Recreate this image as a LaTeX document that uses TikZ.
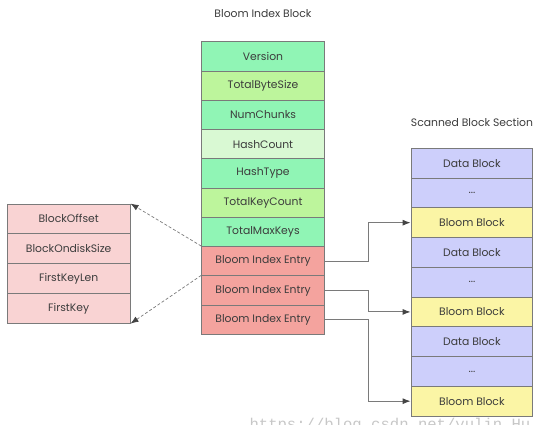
\documentclass[tikz,border=0pt]{standalone}
\usepackage{fontspec}
\setmainfont{Poppins}
\newfontfamily\wmfont{Liberation Mono}
\usetikzlibrary{arrows.meta}
\definecolor{mint}{HTML}{90F5B5}
\definecolor{ygreen}{HTML}{BDF59C}
\definecolor{palegreen}{HTML}{D9F9D3}
\definecolor{salmon}{HTML}{F4A39E}
\definecolor{pinkbox}{HTML}{F9D3D3}
\definecolor{lavender}{HTML}{CDCFFB}
\definecolor{yellowbox}{HTML}{FBF5A5}
\definecolor{edge}{HTML}{7A7A7A}
\definecolor{tip}{HTML}{444444}
\definecolor{txt}{HTML}{3C3C3C}
\newcommand\mydots{...}
\tikzset{
  cell/.style={draw=edge, line width=0.9pt, minimum height=#1, inner sep=0pt,
    font=\fontsize{10.8}{12}\selectfont, text=txt},
  mcell/.style={cell=29.26pt, minimum width=122.5pt},
  lcell/.style={cell=29.8pt, minimum width=122.7pt},
  rcell/.style={cell=29.75pt, minimum width=121.7pt},
  title/.style={font=\fontsize{10.8}{12}\selectfont, text=txt},
  link/.style={draw=edge, line width=0.9pt, -{Latex[length=8pt,width=6pt,color=tip]}},
  dlink/.style={draw=edge, line width=0.7pt, dash pattern=on 3pt off 2pt, -{Latex[length=8pt,width=6pt,color=tip]}},
}
\begin{document}
\begin{tikzpicture}[x=1pt,y=-1pt]
\useasboundingbox (0,0) rectangle (541,424);
\node[text=black!22, font=\wmfont\fontsize{15.6}{16}\selectfont, anchor=base west] (wm) at (246,429) {https://blog.csdn.net/yulin\_Hu};
\node[title] (t1) at (263,14) {Bloom Index Block};
\node[title] (t2) at (472,122) {Scanned Block Section};
% middle column
\foreach \i/\c/\t in {0/mint/Version,1/ygreen/TotalByteSize,2/mint/NumChunks,3/palegreen/HashCount,4/mint/HashType,5/ygreen/TotalKeyCount,6/mint/TotalMaxKeys,7/salmon/Bloom Index Entry,8/salmon/Bloom Index Entry,9/salmon/Bloom Index Entry}{
  \pgfmathtruncatemacro\n{\i+1}
  \node[mcell, fill=\c] (m\n) at (263,{41.7+29.26*(\i+0.5)}) {\t};
}
% left column
\foreach \i/\t in {0/BlockOffset,1/BlockOndiskSize,2/FirstKeyLen,3/FirstKey}{
  \pgfmathtruncatemacro\n{\i+1}
  \node[lcell, fill=pinkbox] (l\n) at (68.7,{204+29.8*(\i+0.5)}) {\t};
}
% right column
\foreach \i/\c/\t in {0/lavender/Data Block,1/lavender/\mydots,2/yellowbox/Bloom Block,3/lavender/Data Block,4/lavender/\mydots,5/yellowbox/Bloom Block,6/lavender/Data Block,7/lavender/\mydots,8/yellowbox/Bloom Block}{
  \pgfmathtruncatemacro\n{\i+1}
  \node[rcell, fill=\c] (r\n) at (471.9,{148.3+29.75*(\i+0.5)}) {\t};
}
\coordinate (vx) at (368,0);
\draw[link] (m8.east) -- (m8.east -| vx) |- (r3.west);
\draw[link] (m9.east) -- (m9.east -| vx) |- (r6.west);
\draw[link] (m10.east) -- (m10.east -| vx) |- (r9.west);
\draw[dlink] (m8.north west) -- (l1.north east);
\draw[dlink] (m9.north west) -- (l4.south east);
\end{tikzpicture}
\end{document}
